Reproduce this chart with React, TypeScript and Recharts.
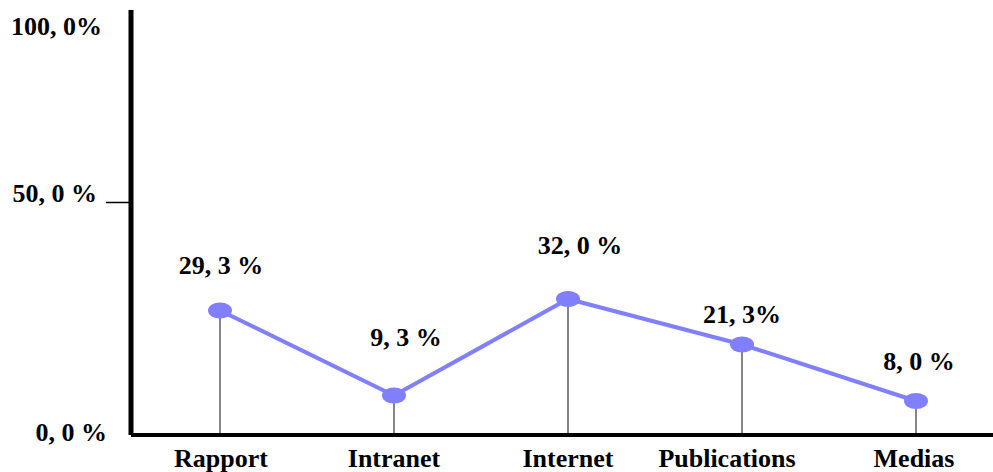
import React from "react";
import { LineChart, Line, XAxis, YAxis, ReferenceLine, LabelList } from "recharts";

const categories = ["Rapport", "Intranet", "Internet", "Publications", "Medias"];
const shares = [29.3, 9.3, 32.0, 21.3, 8.0];
const valueLabels = ["29, 3 %", "9, 3 %", "32, 0 %", "21, 3%", "8, 0 %"];
const yTicks = [0, 50, 100];
const yTickLabels = ["0, 0 %", "50, 0 %", "100, 0%"];

// hand nudges so the labels sit where the original slide placed them
const valueLabelShift = [
  [1, -36],
  [12, -49],
  [12, -45],
  [0, -21],
  [3, -31],
];
const yTickShift = [
  [-24, 6],
  [-34, -21],
  [-29, 25],
];
const catShift = [1, 0, 0, -15, -2];

const data = categories.map((name, i) => ({ name, share: shares[i] }));

const font = "'Liberation Serif', 'Times New Roman', serif";
const blue = "#8080ff";

const YTick = (props: any) => {
  const { x, y, payload } = props;
  const i = yTicks.indexOf(payload.value);
  if (i < 0) return null;
  const [dx, dy] = yTickShift[i];
  const ty = y + dy;
  return (
    <g>
      {payload.value === 50 && (
        <line x1={x - 25} x2={x} y1={ty + 1} y2={ty + 1} stroke="#000" strokeWidth={1.5} />
      )}
      <text x={x + dx} y={ty} textAnchor="end" fontFamily={font} fontWeight="bold" fontSize={26} fill="#000">
        {yTickLabels[i]}
      </text>
    </g>
  );
};

const XTick = (props: any) => {
  const { x, y, payload, index } = props;
  return (
    <text
      x={x + (catShift[index] || 0)}
      y={y + 32}
      textAnchor="middle"
      fontFamily={font}
      fontWeight="bold"
      fontSize={26}
      fill="#000"
    >
      {payload.value}
    </text>
  );
};

const ValueLabel = (props: any) => {
  const { x, y, index } = props;
  const [dx, dy] = valueLabelShift[index];
  return (
    <text x={x + dx} y={y + dy} textAnchor="middle" fontFamily={font} fontWeight="bold" fontSize={26} fill="#000">
      {valueLabels[index]}
    </text>
  );
};

export default function App() {
  return (
    <div style={{ position: "fixed", left: 0, top: 0, width: 993, height: 472, background: "#fff" }}>
      <LineChart width={993} height={472} data={data} margin={{ top: 10, right: 0, bottom: 0, left: 0 }}>
        <XAxis
          dataKey="name"
          height={37}
          padding={{ left: 89, right: 77 }}
          interval={0}
          tickLine={false}
          tickSize={0}
          tickMargin={0}
          axisLine={{ stroke: "#000", strokeWidth: 4 }}
          tick={<XTick />}
        />
        <YAxis
          type="number"
          domain={[0, 100]}
          ticks={yTicks}
          width={131}
          tickLine={false}
          tickSize={0}
          tickMargin={0}
          axisLine={{ stroke: "#000", strokeWidth: 5 }}
          tick={<YTick />}
        />
        {data.map((d) => (
          <ReferenceLine
            key={d.name}
            segment={[
              { x: d.name, y: 0 },
              { x: d.name, y: d.share },
            ]}
            stroke="#858585"
            strokeWidth={2}
          />
        ))}
        <Line
          type="linear"
          dataKey="share"
          stroke={blue}
          strokeWidth={4}
          isAnimationActive={false}
          dot={(p: any) => <ellipse key={p.index} cx={p.cx} cy={p.cy} rx={12} ry={8} fill={blue} />}
          activeDot={false}
        >
          <LabelList dataKey="share" content={<ValueLabel />} />
        </Line>
      </LineChart>
    </div>
  );
}
